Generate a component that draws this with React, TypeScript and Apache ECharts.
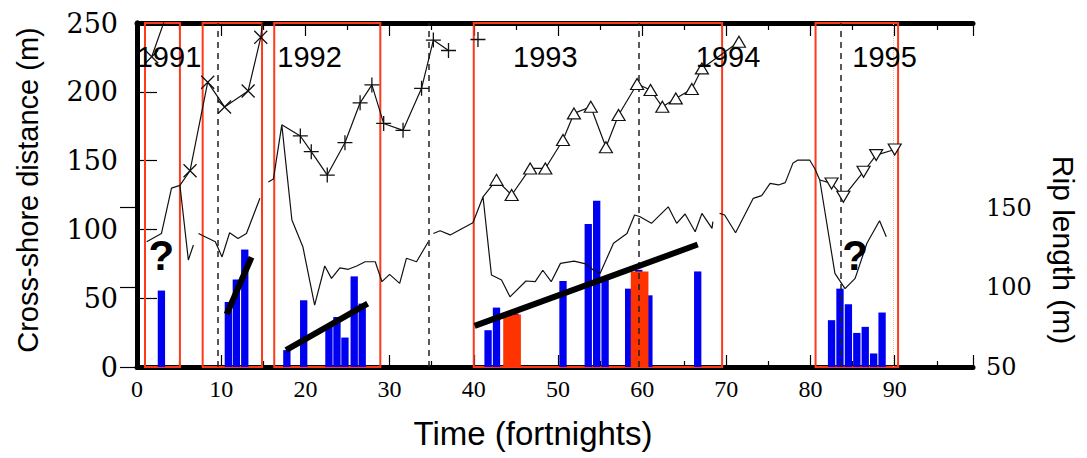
import React, { useEffect, useRef } from 'react';
import * as echarts from 'echarts';

// ---------- data ----------
const xTickLabels = [0, 10, 20, 30, 40, 50, 60, 70, 80, 90];
const leftTicks = [0, 50, 100, 150, 200, 250];
const rightTicks = [50, 100, 150];

// upper (outer) bar crest, cross-shore distance (m)
const upper1991a = [[1.75, 225.5], [4.6, 275]];
const upper1991b = [[5.1, 132], [6.3, 142.6], [8.4, 207], [10.4, 189], [13.2, 200.6], [14.7, 239.6], [15.3, 272]];
const upper1992 = [[17.2, 176], [19.4, 167.9], [20.7, 156.5], [22.6, 139.5], [24.7, 163], [26.5, 192], [27.9, 205], [29.3, 177], [31.6, 172], [33.8, 202.5], [35.2, 237.6], [37.0, 230]];
const upper1992b = [[40.5, 238]];
const upper1993 = [[41.1, 123.7], [42.7, 136], [44.5, 125], [46.7, 144.3], [48.5, 144.3], [50.6, 165], [51.9, 184.3], [53.9, 189.1], [55.7, 159.7], [57.2, 183.1], [59.4, 205.7], [61.0, 201.3], [62.4, 189.1], [64.0, 195.2], [65.9, 202], [67.1, 217], [71.5, 236.4]];
const upper1995 = [[81.1, 135.9], [82.5, 133.4], [83.9, 123.7], [86.3, 141.9], [87.8, 154], [90.0, 158.1]];

// inner bar crest (thin line)
const lower1 = [[1.15, 91], [2.9, 97], [4.1, 130], [5.1, 132], [6.1, 77.8], [6.7, 88.7]];
const lower2 = [[7.3, 97], [9.3, 91], [10.1, 80], [11.0, 97.6], [12.0, 93.4], [13.0, 97], [14.6, 122.6]];
const lower3 = [[15.6, 134.5], [16.2, 136.6], [17.2, 176], [18.4, 106.8], [19.7, 87.4], [21.1, 45], [22.3, 73.4], [23.1, 64.4], [24.1, 72], [25.1, 71], [26.1, 73.4], [27.1, 76.5], [28.3, 76.5], [29.1, 62], [30.0, 67.3], [31.2, 60.8], [32.0, 79], [33.2, 76.5], [34.6, 91]];
const lower4 = [[35.2, 97], [36.0, 99], [37.2, 96], [39.9, 104.9], [41.1, 123.7], [42.1, 66.9], [43.3, 63.2], [44.3, 51], [46.2, 62.5], [47.3, 62], [48.2, 70.3], [49.2, 62], [50.3, 75.3], [51.9, 77], [53.3, 75], [54.2, 70.5], [55.0, 68], [56.6, 89.9], [58.2, 97], [59.1, 110.5], [59.7, 109.4], [61.1, 104.4], [63.1, 116.4], [64.1, 104.4], [65.1, 111.2], [66.3, 98.3], [67.1, 111.6], [68.3, 100.8], [68.4, 105.6]];
const lower5 = [[69.2, 111.6], [69.8, 110.5], [71.1, 97.6], [73.2, 122.6], [74.2, 124.5], [75.2, 133.5], [76.2, 132.3], [77.0, 134], [77.9, 148], [78.5, 150.4], [79.9, 150.4], [80.5, 144.3], [81.1, 135.9], [82.9, 68], [84.1, 57], [85.3, 64.4], [86.7, 89.9], [88.2, 106.3], [89.0, 94.7]];

// rip length (m), right axis
const ripBlue = [[2.9, 98], [10.85, 90.8], [11.8, 105], [12.8, 123.75], [17.8, 60.6], [19.8, 91.9], [22.8, 76.25], [23.75, 81.4], [24.7, 68.5], [25.8, 106.9], [26.75, 89.8], [41.7, 73.1], [42.7, 87.3], [44.9, 83.5], [50.6, 104], [53.6, 139.8], [54.6, 154.4], [55.6, 105.4], [58.4, 99.2], [59.6, 111], [60.8, 95], [66.6, 110], [82.5, 79.4], [83.5, 99.2], [84.5, 89.4], [85.5, 71.4], [86.5, 75.2], [87.5, 58.5], [88.5, 84.2]];
const ripRed = [[44.55, 82.9], [59.7, 110]];

// rip length trends
const trend1991 = [[10.65, 83.1], [13.6, 118.9]];
const trend1992 = [[17.7, 60.6], [27.4, 89.8]];
const trend1993 = [[40.1, 75.8], [66.6, 126.9]];

// periods (red boxes) and dashed year marks
const periodStart = [0.95, 7.8, 16.3, 40.0, 80.6];
const periodEnd = [5.1, 14.85, 28.9, 69.5, 90.4];
const dashedX = [9.6, 34.6, 59.6, 83.6];

const yearNames = ['1991', '1992', '1993', '1994', '1995'];
const yearX = [3.8, 20.5, 48.5, 70.2, 88.8];
const yearY = 225.5;
const questionX = [2.9, 85.3];
const questionY = 81;

const PLUS = 'path://M5,0L5,10M0,5L10,5';
const CROSS = 'path://M0,0L10,10M0,10L10,0';

function lineSeries(points: number[][], symbol: any, branchStart: boolean, extra: any = {}) {
  return {
    type: 'line',
    xAxisIndex: 0,
    yAxisIndex: 0,
    data: points.map((p, i) => (i === 0 && branchStart ? { value: p, symbol: 'none' } : p)),
    symbol: symbol || 'none',
    showSymbol: !!symbol,
    symbolSize: 13,
    lineStyle: { color: '#111', width: 1.2 },
    itemStyle: { color: '#111', borderColor: '#111', borderWidth: 1.3 },
    z: 5,
    silent: true,
    ...extra,
  };
}

function barSeries(points: number[][], width: number, color: string, z: number) {
  return {
    type: 'custom',
    xAxisIndex: 0,
    yAxisIndex: 1,
    data: points,
    encode: { x: 0, y: 1 },
    z,
    silent: true,
    renderItem: (params: any, api: any) => {
      const x = api.value(0);
      const v = api.value(1);
      const base = api.coord([x, 50]);
      const top = api.coord([x, v]);
      const w = api.size([width, 0])[0];
      return {
        type: 'rect',
        shape: { x: base[0] - w / 2, y: top[1], width: w, height: base[1] - top[1] },
        style: { fill: color },
      };
    },
  };
}

function trendSeries(points: number[][]) {
  return {
    type: 'line',
    xAxisIndex: 0,
    yAxisIndex: 1,
    data: points,
    symbol: 'none',
    lineStyle: { color: '#000', width: 6, cap: 'butt' },
    z: 7,
    silent: true,
  };
}

function textSeries(names: string[], xs: number[], y: number, label: any) {
  return {
    type: 'scatter',
    xAxisIndex: 0,
    yAxisIndex: 0,
    silent: true,
    z: 8,
    symbolSize: 1,
    itemStyle: { color: 'rgba(0,0,0,0)' },
    data: names.map((n, i) => ({ name: n, value: [xs[i], y] })),
    label: {
      show: true,
      position: 'inside',
      formatter: '{b}',
      color: '#000',
      opacity: 1,
      textBorderWidth: 0,
      textShadowBlur: 0,
      ...label,
    },
  };
}

export default function App() {
  const ref = useRef<HTMLDivElement>(null);
  useEffect(() => {
    if (!ref.current) return;
    const chart = echarts.init(ref.current, null, { renderer: 'svg' });
    const xAxisBase = {
      type: 'value',
      min: 0,
      max: 99.3,
      interval: 10,
      splitLine: { show: false },
      axisLine: { show: true, onZero: false, lineStyle: { color: '#000', width: 5 } },
    };
    const option: any = {
      animation: false,
      backgroundColor: '#fff',
      grid: { left: 137, right: 114, top: 23, bottom: 91, containLabel: false },
      xAxis: [
        {
          ...xAxisBase,
          position: 'bottom',
          axisTick: { inside: true, length: 12, lineStyle: { color: '#000', width: 1.2 } },
          minorTick: { show: true, splitNumber: 2, length: 6, lineStyle: { color: '#000', width: 1.2 } },
          axisLabel: {
            margin: 10,
            fontFamily: 'Liberation Serif',
            fontSize: 24,
            color: '#000',
            formatter: (v: number) => (xTickLabels.indexOf(v) >= 0 ? String(v) : ''),
          },
        },
        {
          ...xAxisBase,
          position: 'top',
          axisTick: { inside: true, length: 13, lineStyle: { color: '#000', width: 1.2 } },
          minorTick: { show: true, splitNumber: 2, length: 7, lineStyle: { color: '#000', width: 1.2 } },
          axisLabel: { show: false },
        },
      ],
      yAxis: [
        {
          type: 'value',
          min: 0,
          max: 250,
          interval: 50,
          position: 'left',
          splitLine: { show: false },
          axisLine: { show: true, lineStyle: { color: '#000', width: 5 } },
          axisTick: { inside: true, length: 20, lineStyle: { color: '#000', width: 1.2 } },
          axisLabel: {
            fontFamily: 'DejaVu Serif',
            fontSize: 27,
            color: '#000',
            margin: 19,
            formatter: (v: number) => (leftTicks.indexOf(v) >= 0 ? String(v) : ''),
          },
        },
        {
          type: 'value',
          min: 50,
          max: 266,
          interval: 50,
          position: 'right',
          splitLine: { show: false },
          axisLine: { show: true, lineStyle: { color: '#000', width: 5 } },
          axisTick: { inside: true, length: 17, customValues: rightTicks, lineStyle: { color: '#000', width: 1.2 } },
          axisLabel: {
            fontFamily: 'DejaVu Serif',
            fontSize: 24,
            color: '#000',
            margin: 13,
            customValues: rightTicks,
          },
        },
      ],
      graphic: [
        {
          type: 'text',
          x: 28,
          y: 190,
          rotation: Math.PI / 2,
          style: { text: 'Cross-shore distance (m)', fontFamily: 'Liberation Sans', fontSize: 29, fill: '#000', align: 'center', verticalAlign: 'middle', textAlign: 'center', textVerticalAlign: 'middle' },
        },
        {
          type: 'text',
          x: 1063,
          y: 250,
          rotation: -Math.PI / 2,
          style: { text: 'Rip length (m)', fontFamily: 'Liberation Sans', fontSize: 30, fill: '#000', align: 'center', verticalAlign: 'middle', textAlign: 'center', textVerticalAlign: 'middle' },
        },
        {
          type: 'text',
          x: 533,
          y: 433,
          style: { text: 'Time (fortnights)', fontFamily: 'Liberation Sans', fontSize: 33, fill: '#000', align: 'center', verticalAlign: 'middle', textAlign: 'center', textVerticalAlign: 'middle' },
        },
      ],
      series: [
        {
          type: 'line',
          xAxisIndex: 0,
          yAxisIndex: 0,
          data: [],
          symbol: 'none',
          silent: true,
          z: 3,
          markArea: {
            silent: true,
            itemStyle: { color: 'rgba(0,0,0,0)', borderColor: '#ff3a1a', borderWidth: 2 },
            data: periodStart.map((s, i) => [{ xAxis: s }, { xAxis: periodEnd[i] }]),
          },
          markLine: {
            silent: true,
            symbol: ['none', 'none'],
            label: { show: false },
            lineStyle: { color: '#222', type: [6, 5], width: 1.5 },
            data: [
              ...dashedX.map((x) => ({ xAxis: x })),
              { xAxis: 89.8, lineStyle: { color: '#ffb4a0', type: 'dotted', width: 1 } },
            ],
          },
        },
        barSeries(ripBlue, 0.87, '#0000f0', 2),
        barSeries(ripRed, 2.1, '#ff3300', 3),
        lineSeries(lower1, null, false),
        lineSeries(lower2, null, false),
        lineSeries(lower3, null, false),
        lineSeries(lower4, null, false),
        lineSeries(lower5, null, false),
        lineSeries(upper1991a, CROSS, false),
        lineSeries(upper1991b, CROSS, true),
        lineSeries(upper1992, PLUS, true, { symbolSize: 15 }),
        lineSeries(upper1992b, PLUS, false, { symbolSize: 15 }),
        lineSeries(upper1993, 'triangle', true, {
          symbolSize: [13, 11],
          itemStyle: { color: '#fff', borderColor: '#111', borderWidth: 1.2 },
        }),
        lineSeries(upper1995, 'triangle', true, {
          symbolSize: [13, 11],
          symbolRotate: 180,
          itemStyle: { color: '#fff', borderColor: '#111', borderWidth: 1.2 },
        }),
        trendSeries(trend1991),
        trendSeries(trend1992),
        trendSeries(trend1993),
        textSeries(yearNames, yearX, yearY, { fontFamily: 'Liberation Sans', fontSize: 29 }),
        textSeries(questionX.map(() => '?'), questionX, questionY, { fontFamily: 'Liberation Sans', fontWeight: 'bold', fontSize: 42 }),
      ],
    };
    chart.setOption(option);
    return () => chart.dispose();
  }, []);
  return <div ref={ref} style={{ position: 'fixed', left: 0, top: 0, width: 1087, height: 458, background: '#fff' }} />;
}
